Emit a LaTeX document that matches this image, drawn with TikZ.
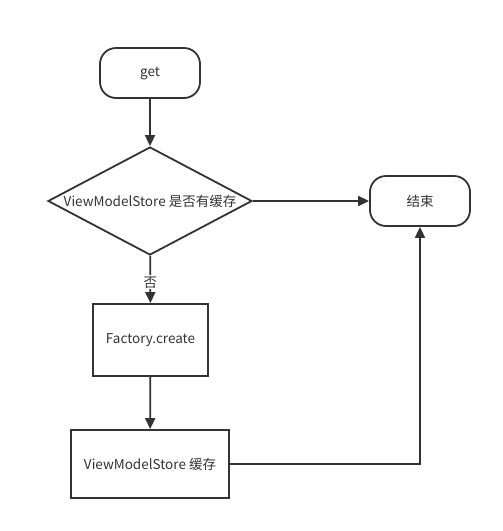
\documentclass[tikz,border=0pt]{standalone}
\usepackage{fontspec}
\setmainfont{Noto Sans CJK SC}
\usetikzlibrary{positioning, shapes.geometric, arrows.meta}
\definecolor{ink}{HTML}{333333}

\begin{document}
\begin{tikzpicture}[
    x=1pt, y=-1pt,
    >={Triangle[length=11pt, width=10pt]},
    font=\fontsize{13.5}{16}\selectfont,
    % Styles
    base/.style={ % every shape of the flow
        draw=ink,
        text=ink,
        line width=1.8pt,
        inner sep=0pt
    },
    terminal/.style={ % start and end
        base,
        rectangle,
        rounded corners=16pt,
        minimum width=100pt,
        minimum height=50pt
    },
    decision/.style={ % test
        base,
        diamond,
        aspect=1.9,
        minimum width=204pt,
        minimum height=108pt
    },
    process/.style={ % action
        base,
        rectangle
    },
    arrow/.style={
        ->,
        draw=ink,
        line width=1.8pt
    }
]

    % Page size
    \useasboundingbox (0,0) rectangle (503,531);

    % Nodes
    \node[terminal] (get) at (150,73) {get};
    \node[decision] (check) at (150,201) {ViewModelStore 是否有缓存};
    \node[terminal] (end) at (420,201) {结束};
    \node[process, minimum width=115pt, minimum height=72pt] (create) at (150.5,340) {Factory.create};
    \node[process, minimum width=158pt, minimum height=68pt] (store) at (150,464) {ViewModelStore 缓存};

    % Connectors
    \draw[arrow] (get) -- (check);
    \draw[arrow] (check) -- (end);
    \draw[arrow] (check) -- (create) node[pos=0.56, fill=white, text=ink, inner sep=1pt] (no) {否};
    \draw[arrow] (create) -- (store);
    \draw[arrow] (store.east) -| (end.south);

\end{tikzpicture}
\end{document}
